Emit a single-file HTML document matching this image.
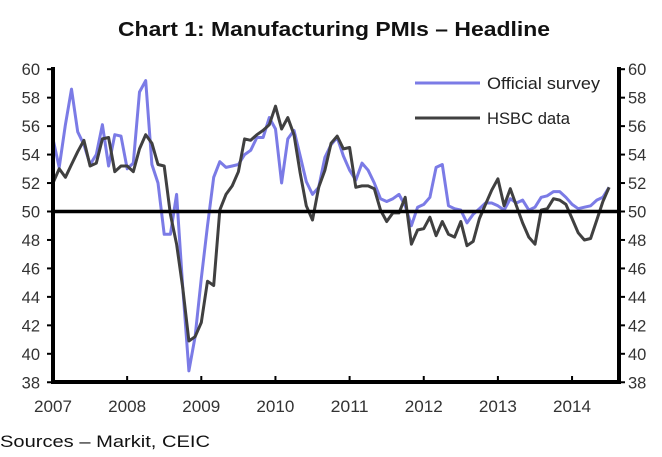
<!DOCTYPE html>
<html><head><meta charset="utf-8"><style>
html,body{margin:0;padding:0;background:#fff;width:662px;height:457px;overflow:hidden}
svg{display:block}
text{font-family:"Liberation Sans",sans-serif}
</style></head><body>
<svg id="s" width="662" height="457" viewBox="0 0 662 457" xmlns="http://www.w3.org/2000/svg">
<text x="334" y="36" text-anchor="middle" font-size="20" font-weight="bold" fill="#111" textLength="432" lengthAdjust="spacingAndGlyphs">Chart 1: Manufacturing PMIs – Headline</text>
<g id="ax"></g>
<polyline id="off" fill="none" stroke="#7b7be6" stroke-width="3" stroke-linejoin="round"/>
<polyline id="hs" fill="none" stroke="#404040" stroke-width="3" stroke-linejoin="round"/>
<line x1="53" y1="211.5" x2="619" y2="211.5" stroke="#000" stroke-width="3.5"/>
<line x1="53" y1="67" x2="53" y2="384" stroke="#000" stroke-width="4"/>
<line x1="619" y1="67" x2="619" y2="384" stroke="#000" stroke-width="4"/>
<line x1="51" y1="382" x2="621" y2="382" stroke="#000" stroke-width="4"/>
<rect x="405" y="66" width="205" height="64" fill="#fff"/>
<line x1="415" y1="83" x2="480" y2="83" stroke="#7b7be6" stroke-width="3"/>
<line x1="415" y1="118" x2="480" y2="118" stroke="#404040" stroke-width="3"/>
<text x="487" y="89" font-size="16.5" fill="#222" textLength="113" lengthAdjust="spacingAndGlyphs">Official survey</text>
<text x="487" y="124" font-size="16.5" fill="#222" textLength="83" lengthAdjust="spacingAndGlyphs">HSBC data</text>
<text x="0" y="447" font-size="17" fill="#111" textLength="210" lengthAdjust="spacingAndGlyphs">Sources – Markit, CEIC</text>
</svg>
<script>
var off=[55.1,53.1,56.1,58.6,55.6,54.7,53.3,54.0,56.1,53.2,55.4,55.3,53.0,53.4,58.4,59.2,53.3,52.0,48.4,48.4,51.2,44.6,38.8,41.2,45.3,49.0,52.4,53.5,53.1,53.2,53.3,54.0,54.3,55.2,55.2,56.6,55.8,52.0,55.1,55.7,53.9,52.1,51.2,51.7,53.8,54.7,55.2,53.9,52.9,52.2,53.4,52.9,52.0,50.9,50.7,50.9,51.2,50.4,49.0,50.3,50.5,51.0,53.1,53.3,50.4,50.2,50.1,49.2,49.8,50.2,50.6,50.6,50.4,50.1,50.9,50.6,50.8,50.1,50.3,51.0,51.1,51.4,51.4,51.0,50.5,50.2,50.3,50.4,50.8,51.0,51.7];
var hs=[52.0,53.0,52.4,53.3,54.2,55.0,53.2,53.4,55.1,55.2,52.8,53.2,53.2,52.8,54.4,55.4,54.8,53.3,53.2,49.8,47.7,44.6,40.9,41.2,42.2,45.1,44.8,50.1,51.2,51.8,52.8,55.1,55.0,55.4,55.7,56.1,57.4,55.8,56.6,55.4,52.7,50.4,49.4,51.7,52.9,54.8,55.3,54.4,54.5,51.7,51.8,51.8,51.6,50.1,49.3,49.9,49.9,51.0,47.7,48.7,48.8,49.6,48.3,49.3,48.4,48.2,49.3,47.6,47.9,49.5,50.5,51.5,52.3,50.4,51.6,50.4,49.2,48.2,47.7,50.1,50.2,50.9,50.8,50.5,49.5,48.5,48.0,48.1,49.4,50.7,51.7];
function X(m){return 53+m*74.15/12}
function Y(v){return 211.5-(v-50)*14.23}
function pts(a){return a.map(function(v,i){return X(i).toFixed(1)+','+Y(v).toFixed(1)}).join(' ')}
document.getElementById('off').setAttribute('points',pts(off));
document.getElementById('hs').setAttribute('points',pts(hs));
var g='';
for(var v=38;v<=60;v+=2){var y=Y(v);
g+='<line x1="47" y1="'+y+'" x2="53" y2="'+y+'" stroke="#000" stroke-width="2"/>';
g+='<line x1="619" y1="'+y+'" x2="625" y2="'+y+'" stroke="#000" stroke-width="2"/>';
g+='<text x="40" y="'+(y+6)+'" font-size="16.5" text-anchor="end" fill="#333">'+v+'</text>';
g+='<text x="628" y="'+(y+6)+'" font-size="16.5" fill="#333">'+v+'</text>';}
for(var k=0;k<8;k++){var x=X(k*12);
g+='<line x1="'+x+'" y1="376" x2="'+x+'" y2="382" stroke="#000" stroke-width="2"/>';
g+='<text x="'+x+'" y="412" font-size="16.5" text-anchor="middle" fill="#333" textLength="38" lengthAdjust="spacingAndGlyphs">'+(2007+k)+'</text>';}
document.getElementById('ax').innerHTML=g;
</script>
</body></html>
